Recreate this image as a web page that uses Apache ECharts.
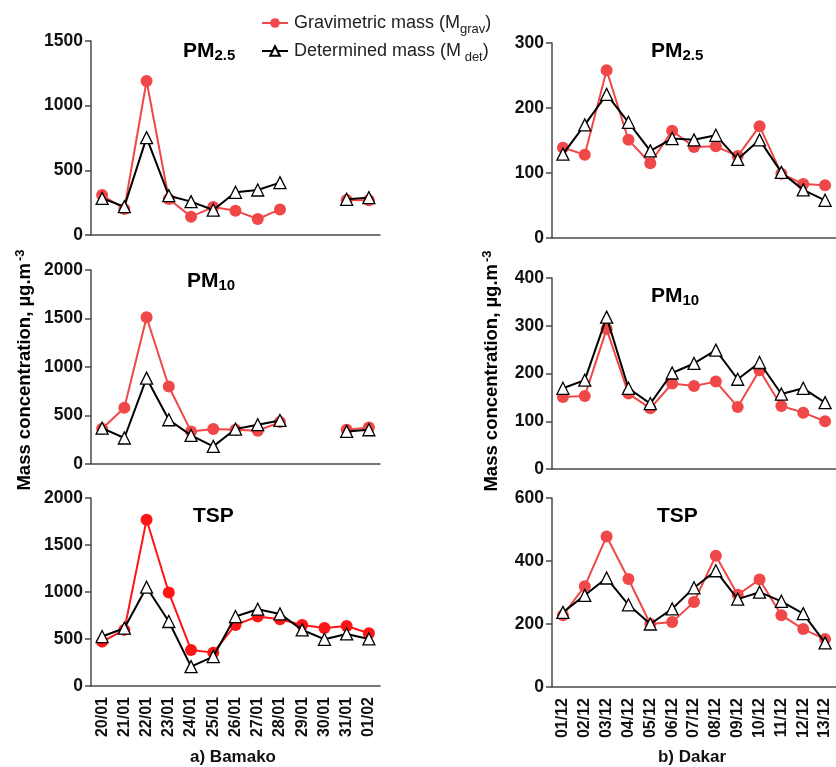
<!DOCTYPE html>
<html>
<head>
<meta charset="utf-8">
<script src="https://cdn.jsdelivr.net/npm/echarts@6/dist/echarts.min.js"></script>
<style>
html,body{margin:0;padding:0;background:#fff;}
#c{width:836px;height:767px;}
</style>
</head>
<body>
<div id="c"></div>
<script>
// Categories
const bamakoDates = ['20/01','21/01','22/01','23/01','24/01','25/01','26/01','27/01','28/01','29/01','30/01','31/01','01/02'];
const dakarDates = ['01/12','02/12','03/12','04/12','05/12','06/12','07/12','08/12','09/12','10/12','11/12','12/12','13/12'];

// Bamako (a)
const bamPM25Grav = [309, 201, 1191, 278, 142, 216, 188, 124, 198, null, null, 271, 268];
const bamPM25Det  = [283, 219, 753, 304, 258, 193, 330, 348, 405, null, null, 276, 289];
const bamPM10Grav = [364, 580, 1513, 799, 336, 360, 353, 343, 432, null, null, 353, 377];
const bamPM10Det  = [370, 268, 885, 456, 295, 182, 360, 405, 449, null, null, 336, 353];
const bamTSPGrav  = [472, 597, 1769, 995, 384, 355, 650, 739, 710, 650, 618, 639, 561];
const bamTSPDet   = [526, 615, 1051, 686, 206, 313, 739, 817, 767, 597, 497, 554, 501];

// Dakar (b)
const dakPM25Grav = [139, 128, 258, 151, 115, 165, 140, 141, 126, 172, 99, 83, 81];
const dakPM25Det  = [129, 174, 221, 178, 134, 153, 151, 158, 121, 151, 101, 74, 58];
const dakPM10Grav = [151, 153, 293, 158, 127, 179, 174, 183, 130, 207, 132, 118, 100];
const dakPM10Det  = [169, 186, 318, 169, 137, 201, 221, 249, 188, 223, 157, 169, 139];
const dakTSPGrav  = [228, 320, 478, 343, 200, 206, 270, 417, 293, 341, 228, 184, 152];
const dakTSPDet   = [237, 291, 346, 261, 200, 248, 315, 369, 279, 301, 272, 233, 140];

// Axis ranges
const yMax = [1500, 2000, 2000, 300, 400, 600];
const yInterval = [500, 500, 500, 100, 100, 200];

const FONT = "'Liberation Sans', Arial, Helvetica, sans-serif";
const RED = '#f04848';
const RED_TSP = '#ff1515';
const AX = '#4a4a4a';

const grids = [
  {left: 91, top: 41, width: 289, height: 194},
  {left: 91, top: 270, width: 289, height: 194},
  {left: 91, top: 498, width: 289, height: 188},
  {left: 552, top: 43, width: 289, height: 195},
  {left: 552, top: 278, width: 289, height: 191},
  {left: 552, top: 498, width: 289, height: 189}
];

const xAxes = grids.map((g, i) => ({
  type: 'category',
  gridIndex: i,
  data: i < 3 ? bamakoDates : dakarDates,
  boundaryGap: true,
  axisLine: {lineStyle: {color: AX, width: 1.5}},
  axisTick: {alignWithLabel: true, length: 6, lineStyle: {color: AX, width: 1.5}},
  axisLabel: {
    show: i === 2 || i === 5,
    rotate: 90,
    interval: 0,
    margin: 11,
    fontFamily: FONT,
    fontWeight: 'bold',
    fontSize: 16,
    color: '#111'
  }
}));

const yAxes = grids.map((g, i) => ({
  type: 'value',
  gridIndex: i,
  min: 0,
  max: yMax[i],
  interval: yInterval[i],
  splitLine: {show: false},
  axisLine: {show: true, onZero: false, lineStyle: {color: AX, width: 1.5}},
  axisTick: {show: true, length: 6, lineStyle: {color: AX, width: 1.5}},
  axisLabel: {fontFamily: FONT, fontWeight: 'bold', fontSize: 17.5, color: '#111', margin: 8,
    formatter: v => String(v)}
}));

function pair(i, grav, det, red) {
  return [
    {
      name: 'grav', type: 'line', xAxisIndex: i, yAxisIndex: i, data: grav,
      symbol: 'circle', symbolSize: 12, z: 2,
      itemStyle: {color: red},
      lineStyle: {color: red, width: 2}
    },
    {
      name: 'det', type: 'line', xAxisIndex: i, yAxisIndex: i, data: det,
      symbol: 'triangle', symbolSize: 12, z: 3,
      itemStyle: {color: '#ffffff', borderColor: '#000', borderWidth: 1.3},
      lineStyle: {color: '#000', width: 2}
    }
  ];
}

const series = [].concat(
  pair(0, bamPM25Grav, bamPM25Det, RED),
  pair(1, bamPM10Grav, bamPM10Det, RED),
  pair(2, bamTSPGrav, bamTSPDet, RED_TSP),
  pair(3, dakPM25Grav, dakPM25Det, RED),
  pair(4, dakPM10Grav, dakPM10Det, RED),
  pair(5, dakTSPGrav, dakTSPDet, RED)
);

const legRich = {
  n: {fontFamily: FONT, fontSize: 18, color: '#222', padding: [0, 0, 0, 1]},
  m: {fontFamily: FONT, fontSize: 18, color: '#222'},
  s: {fontFamily: FONT, fontSize: 13, color: '#222', padding: [12, 0, 0, 0]}
};
function legFmt(name) {
  return name === 'grav'
    ? '{n|Gravimetric mass (M}{s|grav}{m|)}'
    : '{n|Determined mass (M}{s| det}{m|)}';
}

const titleRich = {
  a: {fontFamily: FONT, fontSize: 21, fontWeight: 'bold', color: '#111', lineHeight: 24},
  b: {fontFamily: FONT, fontSize: 15, fontWeight: 'bold', color: '#111', lineHeight: 14, verticalAlign: 'bottom'}
};
function ttl(x, y, main, sub) {
  return {
    type: 'text', x: x, y: y, z: 10,
    style: {text: sub ? '{a|' + main + '}{b|' + sub + '}' : '{a|' + main + '}', rich: titleRich, verticalAlign: 'top'}
  };
}
const ylabRich = {
  m: {fontFamily: FONT, fontSize: 18.5, fontWeight: 'bold', color: '#111', lineHeight: 22},
  s: {fontFamily: FONT, fontSize: 13, fontWeight: 'bold', color: '#111', lineHeight: 10, verticalAlign: 'top', padding: [0, 0, 0, 2]}
};
function ylab(x, y) {
  return {
    type: 'text', x: x, y: y, rotation: Math.PI / 2, z: 10,
    style: {text: '{m|Mass concentration, µg.m}{s|-3}', rich: ylabRich, align: 'center', verticalAlign: 'middle'}
  };
}
function cap(x, y, t) {
  return {
    type: 'text', x: x, y: y, z: 10,
    style: {text: t, fontFamily: FONT, fontSize: 17, fontWeight: 'bold', fill: '#111', align: 'center', verticalAlign: 'middle'}
  };
}

const chart = echarts.init(document.getElementById('c'), null, {renderer: 'canvas'});
chart.setOption({
  animation: false,
  backgroundColor: '#fff',
  grid: grids,
  xAxis: xAxes,
  yAxis: yAxes,
  legend: [
    {data: ['grav'], left: 256, top: 9, itemWidth: 26, itemHeight: 12, formatter: legFmt, textStyle: {rich: legRich}},
    {data: ['det'], left: 256, top: 37, itemWidth: 26, itemHeight: 12, formatter: legFmt, textStyle: {rich: legRich}}
  ],
  series: series,
  graphic: [
    ttl(183, 39, 'PM', '2.5'),
    ttl(187, 269, 'PM', '10'),
    ttl(193, 504, 'TSP'),
    ttl(651, 39, 'PM', '2.5'),
    ttl(651, 284, 'PM', '10'),
    ttl(657, 504, 'TSP'),
    ylab(25, 370),
    ylab(492, 371),
    cap(233, 757, 'a) Bamako'),
    cap(692, 757, 'b) Dakar')
  ]
});
</script>
</body>
</html>
